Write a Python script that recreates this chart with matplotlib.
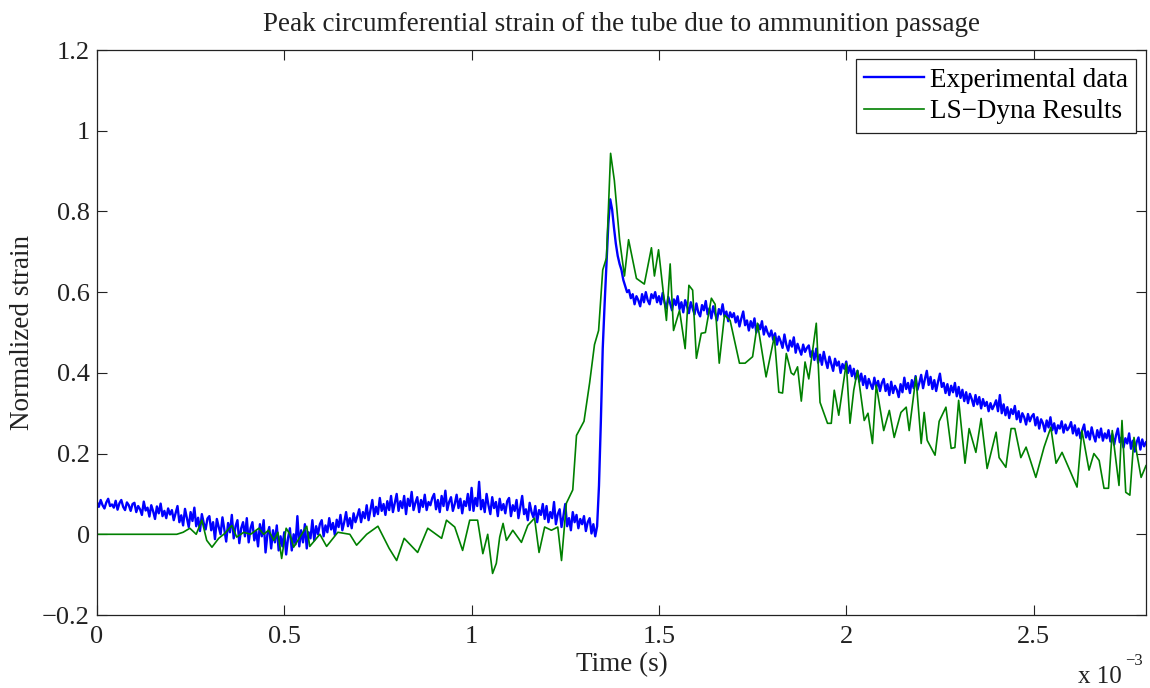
import matplotlib
matplotlib.use("Agg")
import matplotlib.pyplot as plt
from matplotlib.ticker import FuncFormatter

# ---- data (time in ms, converted to s when plotted) ----
exp_t0 = 0.0
exp_dt = 0.005
exp_strain = [
    0.080, 0.068, 0.085, 0.072, 0.064, 0.079, 0.088, 0.070, 0.074, 0.066, 0.083, 0.061, 0.077, 0.085, 0.068, 0.060, 0.079, 0.072, 0.058, 0.075,
    0.078, 0.055, 0.070, 0.062, 0.048, 0.081, 0.059, 0.066, 0.044, 0.072, 0.057, 0.038, 0.069, 0.052, 0.076, 0.045, 0.058, 0.040, 0.064, 0.049,
    0.060, 0.035, 0.052, 0.070, 0.030, 0.047, 0.022, 0.063, 0.040, 0.018, 0.055, 0.033, 0.066, 0.020, 0.041, 0.008, 0.050, 0.028, 0.012, 0.039,
    0.045, 0.010, 0.030, -0.012, 0.038, 0.018, 0.000, 0.042, 0.012, -0.018, 0.028, 0.005, 0.048, -0.010, 0.020, 0.035, -0.022, 0.015, 0.030, -0.005,
    0.040, -0.020, 0.015, 0.030, -0.015, 0.008, -0.030, 0.025, -0.005, 0.035, -0.045, 0.000, 0.018, -0.035, 0.010, -0.020, 0.022, -0.040, -0.005, -0.030,
    0.005, -0.050, -0.010, 0.015, -0.040, 0.000, -0.025, 0.045, -0.030, 0.010, -0.020, 0.025, -0.035, 0.005, -0.010, 0.035, -0.015, 0.020, 0.000, 0.025,
    0.035, -0.005, 0.022, 0.005, 0.040, 0.012, 0.028, -0.002, 0.036, 0.018, 0.048, 0.010, 0.030, 0.055, 0.020, 0.040, 0.015, 0.052, 0.030, 0.045,
    0.062, 0.030, 0.055, 0.040, 0.072, 0.035, 0.060, 0.085, 0.045, 0.068, 0.050, 0.090, 0.058, 0.075, 0.048, 0.082, 0.060, 0.095, 0.055, 0.078,
    0.100, 0.058, 0.082, 0.065, 0.095, 0.050, 0.088, 0.070, 0.105, 0.060, 0.078, 0.092, 0.055, 0.085, 0.068, 0.098, 0.060, 0.080, 0.072, 0.090,
    0.100, 0.062, 0.085, 0.055, 0.095, 0.070, 0.108, 0.060, 0.080, 0.092, 0.058, 0.075, 0.098, 0.065, 0.088, 0.052, 0.082, 0.070, 0.100, 0.060,
    0.115, 0.058, 0.090, 0.070, 0.130, 0.062, 0.085, 0.055, 0.100, 0.072, 0.050, 0.092, 0.065, 0.080, 0.045, 0.088, 0.060, 0.075, 0.052, 0.082,
    0.090, 0.045, 0.072, 0.058, 0.085, 0.040, 0.068, 0.095, 0.050, 0.062, 0.035, 0.078, 0.055, 0.042, 0.070, 0.030, 0.060, 0.048, 0.075, 0.038,
    0.070, 0.030, 0.055, 0.040, 0.080, 0.025, 0.050, 0.062, 0.018, 0.045, 0.075, 0.020, 0.040, 0.010, 0.055, 0.030, 0.048, 0.015, 0.038, 0.025,
    0.045, 0.008, 0.030, 0.040, 0.002, 0.025, -0.005, 0.020, 0.120, 0.280, 0.460, 0.570, 0.670, 0.770, 0.830, 0.805, 0.760, 0.720, 0.690, 0.670,
    0.655, 0.630, 0.615, 0.600, 0.605, 0.585, 0.595, 0.570, 0.590, 0.580, 0.565, 0.595, 0.575, 0.600, 0.580, 0.570, 0.595, 0.585, 0.600, 0.575,
    0.590, 0.570, 0.598, 0.575, 0.560, 0.588, 0.572, 0.555, 0.582, 0.568, 0.590, 0.558, 0.575, 0.550, 0.580, 0.565, 0.548, 0.575, 0.560, 0.545,
    0.572, 0.550, 0.540, 0.568, 0.555, 0.578, 0.545, 0.560, 0.535, 0.565, 0.548, 0.530, 0.558, 0.545, 0.570, 0.540, 0.552, 0.528, 0.550, 0.538,
    0.548, 0.525, 0.540, 0.515, 0.535, 0.552, 0.518, 0.530, 0.505, 0.528, 0.512, 0.535, 0.500, 0.520, 0.508, 0.528, 0.495, 0.515, 0.500, 0.490,
    0.505, 0.482, 0.498, 0.470, 0.490, 0.478, 0.462, 0.495, 0.470, 0.455, 0.480, 0.465, 0.488, 0.450, 0.472, 0.458, 0.445, 0.470, 0.452, 0.462,
    0.468, 0.440, 0.455, 0.432, 0.460, 0.425, 0.445, 0.420, 0.452, 0.430, 0.412, 0.440, 0.422, 0.405, 0.435, 0.418, 0.428, 0.400, 0.422, 0.410,
    0.428, 0.400, 0.418, 0.392, 0.410, 0.385, 0.405, 0.378, 0.398, 0.370, 0.392, 0.362, 0.385, 0.372, 0.360, 0.388, 0.365, 0.380, 0.355, 0.375,
    0.385, 0.355, 0.372, 0.345, 0.378, 0.350, 0.368, 0.358, 0.340, 0.372, 0.352, 0.388, 0.360, 0.375, 0.350, 0.382, 0.362, 0.392, 0.358, 0.375,
    0.395, 0.362, 0.385, 0.405, 0.370, 0.390, 0.360, 0.382, 0.355, 0.378, 0.398, 0.365, 0.375, 0.350, 0.372, 0.345, 0.368, 0.352, 0.375, 0.342,
    0.365, 0.338, 0.358, 0.330, 0.352, 0.325, 0.348, 0.335, 0.318, 0.345, 0.322, 0.340, 0.312, 0.335, 0.318, 0.328, 0.305, 0.325, 0.310, 0.320,
    0.332, 0.305, 0.345, 0.300, 0.322, 0.295, 0.315, 0.288, 0.310, 0.298, 0.318, 0.285, 0.305, 0.278, 0.300, 0.290, 0.272, 0.298, 0.280, 0.292,
    0.298, 0.270, 0.290, 0.262, 0.285, 0.275, 0.255, 0.282, 0.265, 0.290, 0.258, 0.275, 0.250, 0.270, 0.262, 0.280, 0.252, 0.272, 0.258, 0.265,
    0.278, 0.250, 0.270, 0.245, 0.262, 0.238, 0.258, 0.272, 0.240, 0.255, 0.235, 0.265, 0.245, 0.230, 0.258, 0.240, 0.262, 0.232, 0.250, 0.238,
    0.258, 0.230, 0.248, 0.222, 0.245, 0.262, 0.228, 0.240, 0.215, 0.238, 0.225, 0.250, 0.212, 0.232, 0.205, 0.228, 0.240, 0.210, 0.235, 0.218,
    0.228,
]
exp_time_ms = [exp_t0 + i * exp_dt for i in range(len(exp_strain))]

sim_time_ms = [
    0.0, 0.213, 0.23, 0.248, 0.265, 0.28, 0.293, 0.307, 0.325, 0.341, 0.36, 0.373,
    0.392, 0.41, 0.432, 0.445, 0.458, 0.472, 0.483, 0.493, 0.505, 0.515, 0.525,
    0.56, 0.568, 0.595, 0.613, 0.643, 0.675, 0.693, 0.72, 0.75, 0.78, 0.80, 0.82,
    0.856, 0.883, 0.92, 0.933, 0.955, 0.976, 0.995, 1.016, 1.03, 1.043, 1.056,
    1.066, 1.075, 1.084, 1.093, 1.11, 1.133, 1.15, 1.168, 1.18, 1.195, 1.213,
    1.23, 1.24, 1.253, 1.27, 1.28, 1.30, 1.315, 1.328, 1.339, 1.35, 1.36, 1.371,
    1.381, 1.395, 1.408, 1.419, 1.44, 1.461, 1.48, 1.488, 1.499, 1.52, 1.53,
    1.539, 1.555, 1.57, 1.58, 1.59, 1.60, 1.613, 1.624, 1.64, 1.65, 1.661, 1.675,
    1.69, 1.715, 1.73, 1.75, 1.763, 1.786, 1.808, 1.82, 1.83, 1.84, 1.853, 1.86,
    1.87, 1.88, 1.89, 1.90, 1.92, 1.93, 1.95, 1.96, 1.968, 1.98, 2.0, 2.01, 2.02,
    2.03, 2.048, 2.058, 2.07, 2.08, 2.1, 2.115, 2.128, 2.146, 2.16, 2.168, 2.186,
    2.2, 2.208, 2.216, 2.237, 2.248, 2.266, 2.28, 2.29, 2.3, 2.317, 2.328, 2.346,
    2.36, 2.376, 2.4, 2.408, 2.426, 2.44, 2.45, 2.466, 2.48, 2.506, 2.528, 2.546,
    2.56, 2.576, 2.6, 2.616, 2.629, 2.648, 2.661, 2.675, 2.688, 2.70, 2.71, 2.728,
    2.736, 2.746, 2.757, 2.768, 2.787, 2.8,
]
sim_strain = [
    0.0, 0.0, 0.005, 0.015, 0.0, 0.035, -0.015, -0.032, -0.01, 0.002, 0.022, -0.007,
    0.005, 0.0, 0.015, 0.0, 0.01, -0.015, 0.005, -0.06, 0.015, 0.0, -0.032,
    0.02, -0.03, 0.0, -0.03, 0.005, 0.0, -0.027, 0.0, 0.02, -0.035, -0.065, -0.01,
    -0.045, 0.015, -0.01, 0.035, 0.018, -0.04, 0.035, 0.035, -0.048, 0.0, -0.097,
    -0.072, -0.007, 0.027, -0.015, 0.01, -0.02, 0.022, 0.04, -0.045, 0.018, 0.01,
    0.018, -0.065, 0.077, 0.11, 0.245, 0.28, 0.375, 0.47, 0.505, 0.655, 0.685, 0.944,
    0.877, 0.73, 0.64, 0.73, 0.634, 0.62, 0.71, 0.64, 0.705, 0.53, 0.67,
    0.505, 0.555, 0.46, 0.617, 0.605, 0.436, 0.498, 0.50, 0.585, 0.57, 0.424, 0.543,
    0.53, 0.424, 0.424, 0.44, 0.523, 0.39, 0.49, 0.352, 0.35, 0.448, 0.40, 0.395,
    0.415, 0.33, 0.427, 0.385, 0.523, 0.327, 0.275, 0.275, 0.357, 0.295, 0.424, 0.275, 0.357,
    0.406, 0.282, 0.30, 0.225, 0.37, 0.257, 0.307, 0.24, 0.302, 0.315, 0.257, 0.39,
    0.225, 0.302, 0.233, 0.196, 0.28, 0.315, 0.213, 0.215, 0.332, 0.176, 0.262, 0.203,
    0.287, 0.163, 0.253, 0.19, 0.166, 0.262, 0.262, 0.19, 0.216, 0.141, 0.216, 0.265,
    0.176, 0.203, 0.151, 0.117, 0.257, 0.159, 0.2, 0.183, 0.114, 0.114, 0.257, 0.121,
    0.282, 0.104, 0.097, 0.24, 0.141, 0.17,
]

series_labels = ["Experimental data", "LS\u2212Dyna Results"]
x_ticks_ms = [0, 0.5, 1, 1.5, 2, 2.5]
y_ticks = [-0.2, 0, 0.2, 0.4, 0.6, 0.8, 1.0, 1.2]

plt.rcParams['font.family'] = ['Liberation Serif', 'DejaVu Serif']

fig = plt.figure(figsize=(11.5, 6.88), dpi=100)
ax = fig.add_axes([0.0843, 0.1061, 0.9122, 0.8212])

ax.plot([t * 1e-3 for t in exp_time_ms], exp_strain, color='#0000FF', lw=1.7,
        label=series_labels[0])
ax.plot([t * 1e-3 for t in sim_time_ms], sim_strain, color='#008000', lw=1.2,
        label=series_labels[1])

ax.set_xlim(0, 2.8e-3)
ax.set_ylim(-0.2, 1.2)
ax.set_xticks([t * 1e-3 for t in x_ticks_ms])
ax.set_yticks(y_ticks)
ax.xaxis.set_major_formatter(FuncFormatter(lambda v, p: ('%g' % round(v * 1e3, 3))))
ax.yaxis.set_major_formatter(FuncFormatter(lambda v, p: ('%g' % round(v, 3)).replace('-', '\u2212')))
ax.tick_params(direction='in', length=7, width=0.8, top=True, right=True,
               labelsize=19, pad=5, colors='#222222')
ax.tick_params(axis='x', pad=8)
for s in ax.spines.values():
    s.set_linewidth(0.9)
    s.set_color('#222222')

ax.set_title('Peak circumferential strain of the tube due to ammunition passage',
             fontsize=19.5, pad=14, color='#222222')
ax.set_xlabel('Time (s)', fontsize=19.5, labelpad=3, color='#222222')
ax.set_ylabel('Normalized strain', fontsize=19.5, labelpad=5, color='#222222')

fig.text(0.937, 0.0, 'x 10', fontsize=18, ha='left', va='bottom', color='#222222')
fig.text(0.978, 0.027, '\u22123', fontsize=12, ha='left', va='bottom', color='#222222')

leg = ax.legend(loc='upper right', fontsize=19.5, handlelength=2.2, handletextpad=0.25,
                borderaxespad=0.35, borderpad=0.3, labelspacing=0.25, fancybox=False,
                framealpha=1)
leg.get_frame().set_edgecolor('#222222')
leg.get_frame().set_linewidth(0.9)

fig.savefig('out.png', dpi=100)
